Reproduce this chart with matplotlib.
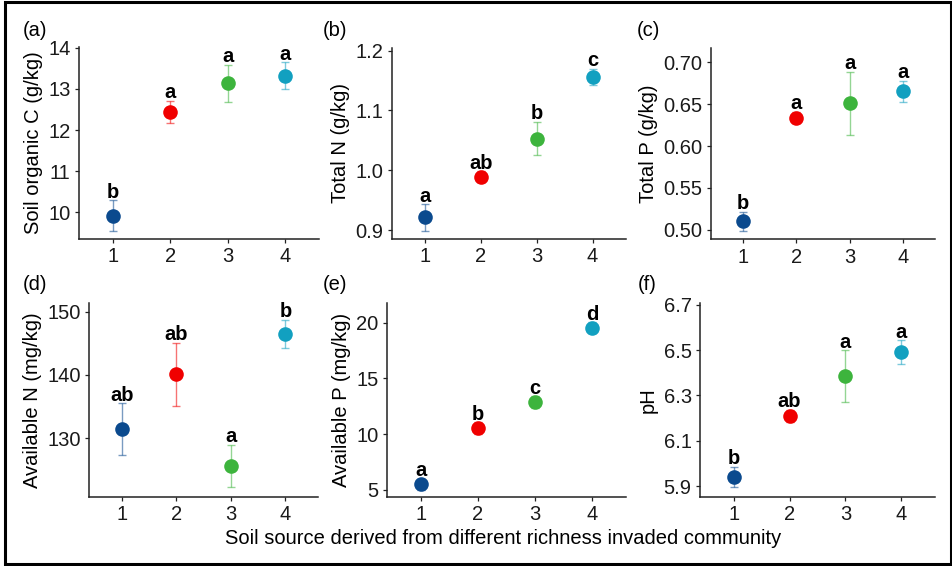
import matplotlib
matplotlib.use("Agg")
import matplotlib.pyplot as plt
from matplotlib.patches import Rectangle

plt.rcParams['font.family'] = ['Liberation Sans', 'DejaVu Sans']

groups = [1, 2, 3, 4]
colors = ['#0b4a8e', '#f00000', '#3db43d', '#12a0c0']

soc_mean = [9.92, 12.44, 13.14, 13.32]
soc_se = [0.37, 0.27, 0.45, 0.33]
soc_let = ['b', 'a', 'a', 'a']

tn_mean = [0.921, 0.989, 1.053, 1.156]
tn_se = [0.022, 0.009, 0.028, 0.014]
tn_let = ['a', 'ab', 'b', 'c']

tp_mean = [0.510, 0.634, 0.651, 0.6655]
tp_se = [0.0115, 0.007, 0.038, 0.0125]
tp_let = ['b', 'a', 'a', 'a']

an_mean = [131.4, 140.1, 125.6, 146.5]
an_se = [4.1, 5.0, 3.35, 2.2]
an_let = ['ab', 'ab', 'a', 'b']

ap_mean = [5.49, 10.54, 12.87, 19.55]
ap_se = [0.5, 0.5, 0.5, 0.5]
ap_let = ['a', 'b', 'c', 'd']

ph_mean = [5.94, 6.209, 6.384, 6.491]
ph_se = [0.045, 0.028, 0.114, 0.052]
ph_let = ['b', 'ab', 'a', 'a']

W, H = 953, 566
fig = plt.figure(figsize=(W / 100, H / 100), dpi=100)

FS = 14.5

panels = [
    ((79, 319, 47, 239), 'Soil organic C (g/kg)', soc_mean, soc_se, soc_let,
     (9.35, 14.02), [10, 11, 12, 13, 14], ['10', '11', '12', '13', '14'], '(a)', (23, 30)),
    ((391.7, 626, 47.7, 239), 'Total N (g/kg)', tn_mean, tn_se, tn_let,
     (0.885, 1.205), [0.9, 1.0, 1.1, 1.2], ['0.9', '1.0', '1.1', '1.2'], '(b)', (323, 30)),
    ((711, 935, 47.7, 239.3), 'Total P (g/kg)', tp_mean, tp_se, tp_let,
     (0.4885, 0.7175), [0.50, 0.55, 0.60, 0.65, 0.70], ['0.50', '0.55', '0.60', '0.65', '0.70'], '(c)', (637, 30)),
    ((89.3, 318, 303.3, 496.7), 'Available N (mg/kg)', an_mean, an_se, an_let,
     (120.78, 151.3), [130, 140, 150], ['130', '140', '150'], '(d)', (23, 285)),
    ((386.7, 626, 303.3, 496.7), 'Available P (mg/kg)', ap_mean, ap_se, ap_let,
     (4.37, 21.74), [5, 10, 15, 20], ['5', '10', '15', '20'], '(e)', (323, 285)),
    ((700, 935, 303.3, 496.7), 'pH', ph_mean, ph_se, ph_let,
     (5.853, 6.706), [5.9, 6.1, 6.3, 6.5, 6.7], ['5.9', '6.1', '6.3', '6.5', '6.7'], '(f)', (638, 285)),
]

for (l, r, t, b), ylabel, mean, se, let, ylim, yt, ytl, plab, ppos in panels:
    ax = fig.add_axes([l / W, 1 - b / H, (r - l) / W, (b - t) / H])
    for i, g in enumerate(groups):
        ax.errorbar(g, mean[i], yerr=se[i], fmt='none', ecolor=colors[i], alpha=0.55,
                    elinewidth=1.0, capsize=3.2, capthick=1.0, zorder=2)
        ax.plot(g, mean[i], 'o', color=colors[i], markersize=10.5, markeredgewidth=0, zorder=3)
        ax.annotate(let[i], (g, mean[i] + se[i]), xytext=(0, 1.8), textcoords='offset points',
                    ha='center', va='baseline', fontsize=FS, fontweight='bold', color='black', zorder=4)
    ax.set_xlim(0.4, 4.6)
    ax.set_ylim(*ylim)
    ax.set_xticks(groups)
    ax.set_xticklabels([str(g) for g in groups])
    ax.set_yticks(yt)
    ax.set_yticklabels(ytl)
    ax.set_ylabel(ylabel, fontsize=FS, color='black', labelpad=4)
    ax.tick_params(axis='both', direction='out', length=3, width=0.9, labelsize=FS,
                   colors='#222222', labelcolor='#1a1a1a', pad=3)
    for s in ['top', 'right']:
        ax.spines[s].set_visible(False)
    for s in ['left', 'bottom']:
        ax.spines[s].set_linewidth(1.1)
        ax.spines[s].set_color('#222222')
    ax.patch.set_alpha(0)
    fig.text(ppos[0] / W, 1 - ppos[1] / H, plab, ha='left', va='center', fontsize=FS, color='black')

fig.text(503 / W, 1 - 538 / H, 'Soil source derived from different richness invaded community',
         ha='center', va='center', fontsize=FS, color='black')

fig.patches.append(Rectangle((5.5 / W, 1 - 564 / H), (951 - 5.5) / W, (564 - 1.5) / H,
                             transform=fig.transFigure, fill=False, edgecolor='black', linewidth=2.2))

fig.savefig('out.png', dpi=100)
